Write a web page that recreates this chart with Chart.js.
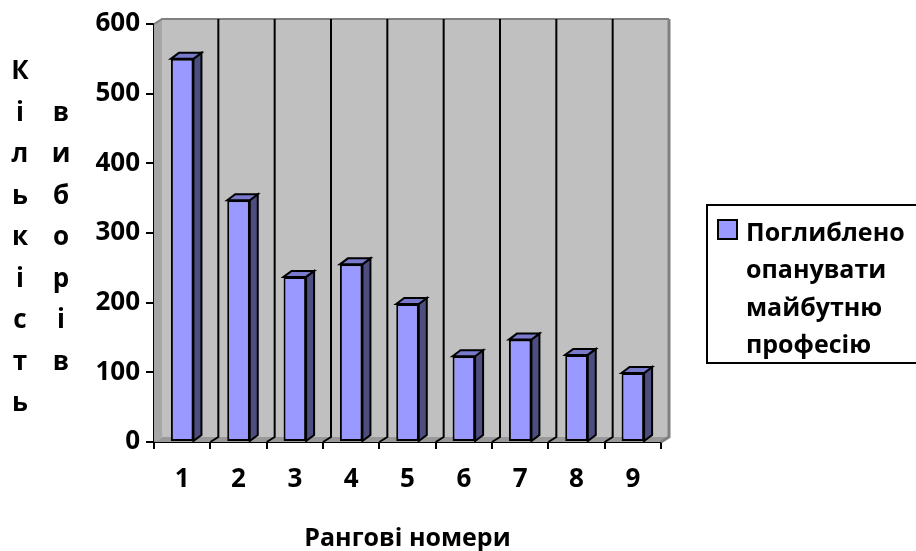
<!DOCTYPE html>
<html>
<head>
<meta charset="utf-8">
<script src="https://cdn.jsdelivr.net/npm/chart.js@4"></script>
<style>
  html, body { margin: 0; padding: 0; background: #ffffff; }
  #wrap { width: 916px; height: 551px; position: relative; }
</style>
</head>
<body>
<div id="wrap"><canvas id="c" width="916" height="551"></canvas></div>
<script>
// ---- data ----
const categories = ['1', '2', '3', '4', '5', '6', '7', '8', '9'];
const values = [550, 347, 237, 255, 198, 123, 147, 125, 99];
const seriesLabel = 'Поглиблено опанувати майбутню професію';
const legendLines = ['Поглиблено', 'опанувати', 'майбутню', 'професію'];
const xTitle = 'Рангові номери';
const yTitleCol1 = 'Кількість';
const yTitleCol2 = 'виборів';
const yMin = 0, yMax = 600, yStep = 100;

// ---- styles ----
const FONT = '"Open Sans", "Noto Sans", sans-serif';
const FRONT = '#9999FF', SIDE = '#4D4D80', TOP = '#7A7ACC';
const WALL = '#C0C0C0', SIDEWALL = '#A6A6A6', FLOOR = '#999999';
const DX = 8, DY = -5;      // wall depth
const BDX = 8, BDY = -6;    // bar depth

function poly(ctx, pts, fill, stroke, lw) {
  ctx.beginPath();
  ctx.moveTo(pts[0][0], pts[0][1]);
  for (let i = 1; i < pts.length; i++) ctx.lineTo(pts[i][0], pts[i][1]);
  ctx.closePath();
  if (fill) { ctx.fillStyle = fill; ctx.fill(); }
  if (stroke) { ctx.strokeStyle = stroke; ctx.lineWidth = lw || 1; ctx.lineJoin = 'miter'; ctx.stroke(); }
}

const walls = {
  id: 'walls',
  beforeDatasetsDraw(chart) {
    const { ctx, chartArea: a, scales: { x } } = chart;
    ctx.save();
    // back wall
    ctx.fillStyle = WALL;
    ctx.fillRect(a.left + DX, a.top + DY, a.right - a.left, a.bottom - a.top);
    // left side wall
    poly(ctx, [[a.left, a.top], [a.left + DX, a.top + DY], [a.left + DX, a.bottom + DY], [a.left, a.bottom]], SIDEWALL);
    // floor
    poly(ctx, [[a.left, a.bottom], [a.left + DX, a.bottom + DY], [a.right + DX, a.bottom + DY], [a.right, a.bottom]], FLOOR);
    // wall borders
    ctx.strokeStyle = '#808080';
    ctx.lineWidth = 2;
    ctx.beginPath();
    ctx.moveTo(a.left, a.top);
    ctx.lineTo(a.left + DX, a.top + DY);
    ctx.lineTo(a.right + DX, a.top + DY);
    ctx.stroke();
    ctx.lineWidth = 3;
    ctx.beginPath();
    ctx.moveTo(a.right + DX, a.top + DY);
    ctx.lineTo(a.right + DX, a.bottom + DY);
    ctx.lineTo(a.right, a.bottom);
    ctx.stroke();
    // category gridlines on floor and back wall
    ctx.strokeStyle = '#000000';
    ctx.lineWidth = 2;
    for (let i = 1; i < categories.length; i++) {
      const bx = (x.getPixelForValue(i - 1) + x.getPixelForValue(i)) / 2;
      ctx.beginPath();
      ctx.moveTo(bx, a.bottom);
      ctx.lineTo(bx + DX, a.bottom + DY);
      ctx.lineTo(bx + DX, a.top + DY);
      ctx.stroke();
    }
    ctx.restore();
  },
  afterDatasetsDraw(chart) {
    const { ctx } = chart;
    const meta = chart.getDatasetMeta(0);
    ctx.save();
    meta.data.forEach(bar => {
      const p = bar.getProps(['x', 'y', 'base', 'width'], true);
      const l = p.x - p.width / 2, r = p.x + p.width / 2;
      poly(ctx, [[r, p.y], [r + BDX, p.y + BDY], [r + BDX, p.base + BDY], [r, p.base]], SIDE, '#000', 2);
      poly(ctx, [[l, p.y], [l + BDX, p.y + BDY], [r + BDX, p.y + BDY], [r, p.y]], TOP, '#000', 2);
    });
    ctx.restore();
  },
  afterDraw(chart) {
    const { ctx } = chart;
    ctx.save();
    // vertical y-axis title (stacked letters, two columns)
    ctx.fillStyle = '#000';
    ctx.font = 'bold 26px ' + FONT;
    ctx.textAlign = 'center';
    ctx.textBaseline = 'alphabetic';
    const step = 41.5, base0 = 79;
    Array.from(yTitleCol1).forEach((ch, i) => ctx.fillText(ch, 20, base0 + i * step));
    Array.from(yTitleCol2).forEach((ch, i) => ctx.fillText(ch, 61, base0 + (i + 1) * step));
    // legend
    ctx.strokeStyle = '#000';
    ctx.lineWidth = 2;
    ctx.strokeRect(707, 205, 220, 158);
    ctx.fillStyle = FRONT;
    ctx.fillRect(718, 220, 19, 19);
    ctx.strokeRect(718, 220, 19, 19);
    ctx.fillStyle = '#000';
    ctx.font = 'bold 25px ' + FONT;
    ctx.textAlign = 'left';
    ctx.textBaseline = 'alphabetic';
    legendLines.forEach((t, i) => ctx.fillText(t, 746, 241 + i * 37.3));
    ctx.restore();
  }
};

new Chart(document.getElementById('c'), {
  type: 'bar',
  data: {
    labels: categories,
    datasets: [{
      label: seriesLabel,
      data: values,
      backgroundColor: FRONT,
      borderColor: '#000000',
      borderWidth: 2,
      borderSkipped: false,
      barPercentage: 0.4,
      categoryPercentage: 1.0
    }]
  },
  options: {
    responsive: false,
    animation: false,
    devicePixelRatio: 1,
    layout: { padding: { left: 0, right: 255, top: 24, bottom: 0 } },
    plugins: { legend: { display: false }, tooltip: { enabled: false } },
    scales: {
      y: {
        min: yMin, max: yMax,
        ticks: { stepSize: yStep, color: '#000', padding: 6, font: { family: FONT, size: 26, weight: 'bold' } },
        grid: { drawOnChartArea: false, drawTicks: true, tickLength: 8, color: '#000', lineWidth: 2 },
        border: { display: true, color: '#000', width: 2 },
        afterFit(s) { s.width = 154; }
      },
      x: {
        ticks: { color: '#000', padding: 15, font: { family: FONT, size: 26, weight: 'bold' } },
        grid: { offset: true, drawOnChartArea: false, drawTicks: true, tickLength: 7, color: '#000', lineWidth: 2 },
        border: { display: true, color: '#000', width: 2 },
        title: { display: true, text: xTitle, color: '#000', padding: { top: 0, bottom: -3 }, font: { family: FONT, size: 25, weight: 'bold' } },
        afterFit(s) { s.height = 109; }
      }
    }
  },
  plugins: [walls]
});
</script>
</body>
</html>
